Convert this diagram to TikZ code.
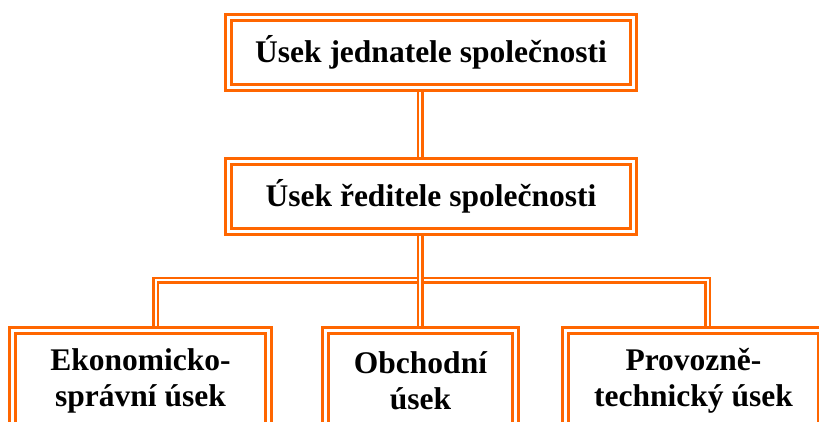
\documentclass[tikz,border=0pt]{standalone}
\usepackage{fontspec}
\setmainfont{Liberation Serif}
\definecolor{orgline}{RGB}{255,102,0}
\begin{document}
\begin{tikzpicture}[x=1pt,y=-1pt]
\tikzstyle{unit}=[draw=orgline, line width=2.8pt, double=white, double distance=3pt, rectangle, inner sep=0pt, outer sep=4.3pt, align=center, font=\fontsize{31.5}{36}\selectfont\bfseries]
\tikzstyle{link}=[draw=orgline, line width=2.5pt, double=white, double distance=2pt]

\useasboundingbox (0,0) rectangle (819,422);
\clip (0,0) rectangle (819,422);

% Top levels
\node[unit, minimum width=405pt, minimum height=70pt] (jednatel) at (431,52.5) {Úsek jednatele společnosti};
\node[unit, minimum width=405pt, minimum height=70pt] (reditel) at (431,196.5) {Úsek ředitele společnosti};

% Departments
\node[unit, minimum width=256pt, minimum height=101pt] (ekon) at (140.5,381) {Ekonomicko-\\správní úsek};
\node[unit, minimum width=190pt, minimum height=101pt] (obch) at (420.5,381) {Obchodní\\úsek};
\node[unit, minimum width=256pt, minimum height=101pt] (prov) at (693.5,381) {Provozně-\\technický úsek};

% Connectors
\coordinate (bar) at (420,280);
\draw[link] ([xshift=-11pt]jednatel.south) -- ([xshift=-11pt]reditel.north);
\draw[link] ([xshift=15pt]ekon.north) |- (bar) -| ([xshift=14pt]prov.north);
\draw[link] ([xshift=-11pt]reditel.south) -- ([xshift=-11pt]reditel.south |- obch.north);
\end{tikzpicture}
\end{document}
